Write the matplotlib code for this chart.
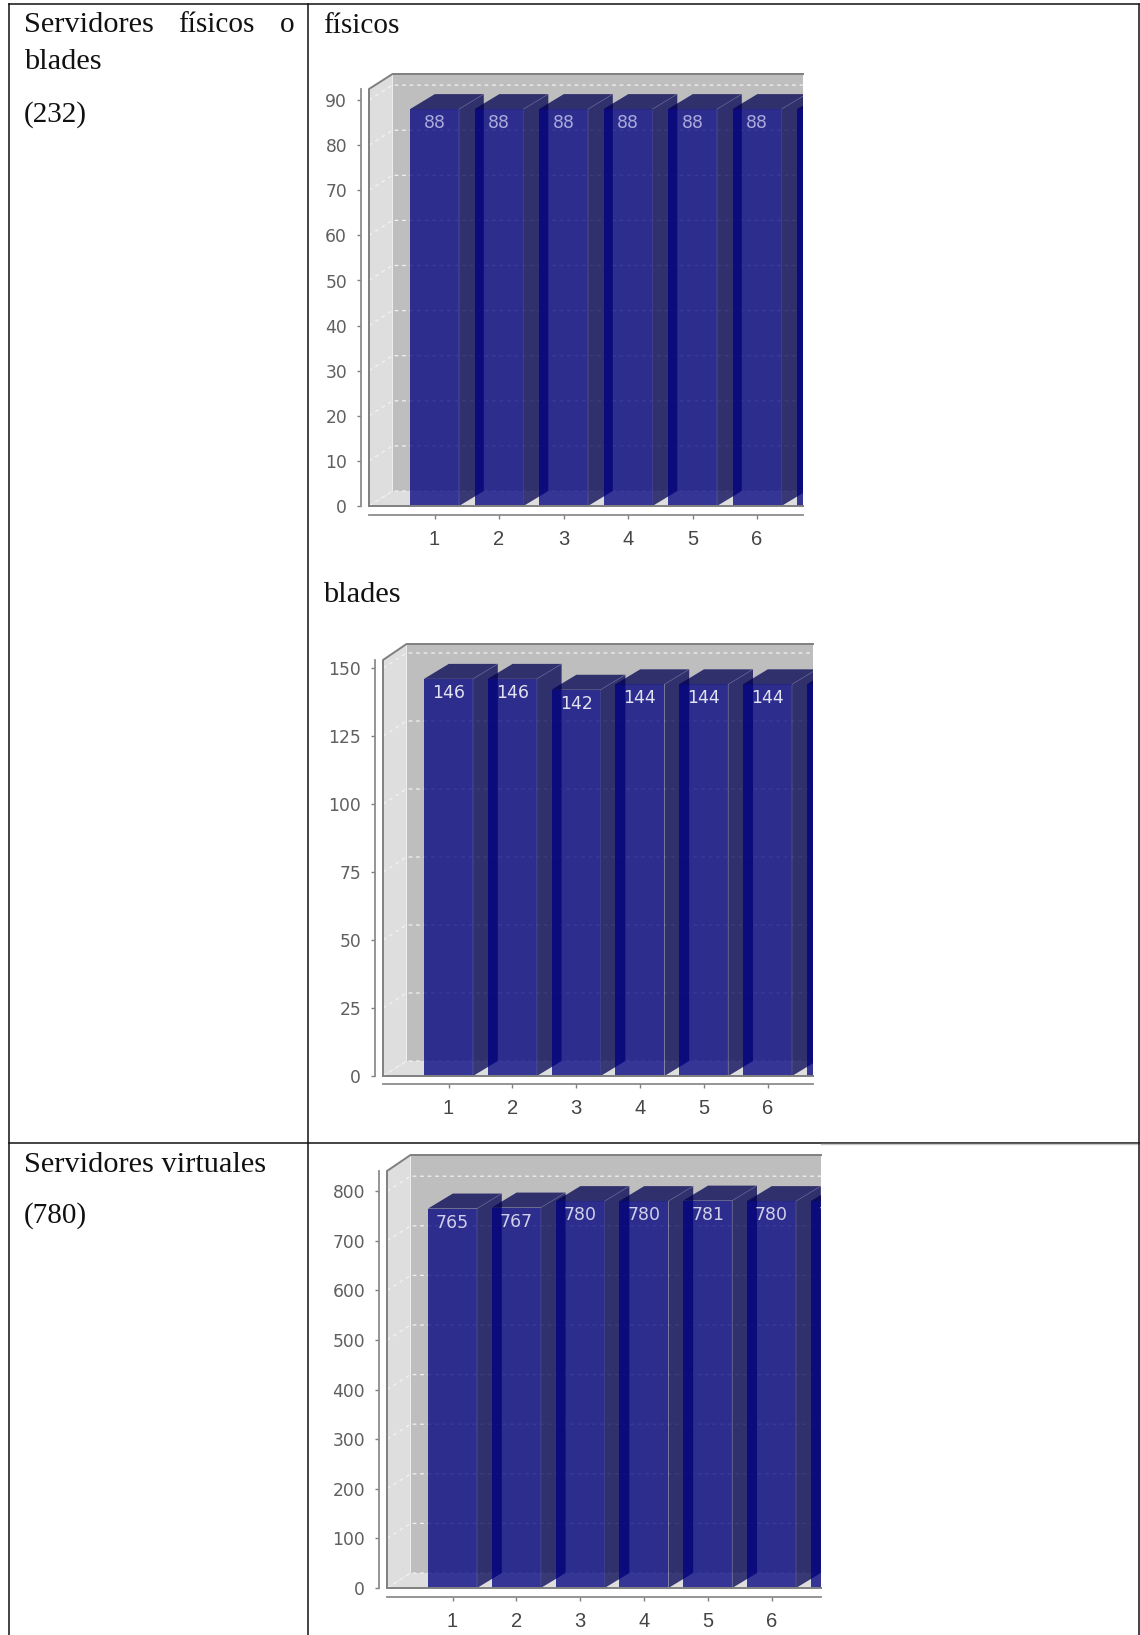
import matplotlib
matplotlib.use("Agg")
import matplotlib.pyplot as plt
from matplotlib.lines import Line2D
from matplotlib.patches import Polygon

# values
CATEGORIES = [1, 2, 3, 4, 5, 6, 7]
FISICOS = [88, 88, 88, 88, 88, 88, 88]
BLADES = [146, 146, 142, 144, 144, 144, 144]
VIRTUALES = [765, 767, 780, 780, 781, 780, 780]
FISICOS_TICKS = [0, 10, 20, 30, 40, 50, 60, 70, 80, 90]
BLADES_TICKS = [0, 25, 50, 75, 100, 125, 150]
VIRTUALES_TICKS = [0, 100, 200, 300, 400, 500, 600, 700, 800]

W, H = 1140, 1635
WALL_DEPTH_X = 23.5
BAR_DEPTH_X = 24.8
DEPTH_Y = 15
BAR_PX = 49

NAVY = (0, 0, 128 / 255, 0.76)
NAVY_DARK = (0, 0, 82 / 255, 0.75)
EDGE = (0.62, 0.62, 0.78, 0.3)
WALL = "#dedede"
BACK = "#bebebe"
OUTLINE = "#808080"
SERIF = "Liberation Serif"

fig = plt.figure(figsize=(W / 100, H / 100), dpi=100)


def fx(x):
    return x / W


def fy(y):
    return 1 - y / H


def table_line(x0, y0, x1, y1, color="#111111", lw=1.1):
    fig.add_artist(Line2D([fx(x0), fx(x1)], [fy(y0), fy(y1)], color=color, lw=lw,
                          transform=fig.transFigure))


def doc_text(x, y, s, size=21):
    fig.text(fx(x), fy(y), s, family=SERIF, fontsize=size, color="#111111", va="baseline")


def bar_chart(values, ticks, wall, clip, zero, top, corner, ppu, centre, spacing,
              label_color, spine_gap, axis_gap):
    ax = fig.add_axes([fx(wall), fy(zero), fx(clip - wall), (zero - top) / H])
    ax.set_xlim(1 + (wall - centre) / spacing, 1 + (clip - centre) / spacing)
    ax.set_ylim(0, (zero - top) / ppu)
    x0, x1 = ax.get_xlim()
    y1 = ax.get_ylim()[1]
    wall_dx = WALL_DEPTH_X / spacing
    dx = BAR_DEPTH_X / spacing
    dy = DEPTH_Y / ppu
    width = BAR_PX / spacing

    # walls and floor of the fake 3d box
    ax.add_patch(Polygon([(x0 + wall_dx, dy), (x1, dy), (x1, y1), (x0 + wall_dx, y1)], fc=BACK, ec="none"))
    ax.add_patch(Polygon([(x0, 0), (x0 + wall_dx, dy), (x0 + wall_dx, y1), (x0, y1 - dy)], fc=WALL, ec="none"))
    ax.add_patch(Polygon([(x0, 0), (x1, 0), (x1, dy), (x0 + wall_dx, dy)], fc=WALL, ec="none"))

    for t in ticks:
        ax.plot([x0, x0 + wall_dx, x1], [t, t + dy, t + dy], color="#f2f2f2", lw=0.9,
                dashes=(3, 3), zorder=1)

    for cat, val in zip(CATEGORIES, values):
        left = cat - width / 2
        right = cat + width / 2
        ax.bar(cat, val, width=width, color=NAVY, edgecolor="none", zorder=2)
        ax.add_patch(Polygon([(right, 0), (right + dx, dy), (right + dx, val + dy), (right, val)],
                             fc=NAVY_DARK, ec="none", zorder=2))
        ax.add_patch(Polygon([(left, val), (right, val), (right + dx, val + dy), (left + dx, val + dy)],
                             fc=NAVY_DARK, ec="none", zorder=2))
        ax.plot([right, right, right + dx], [0, val, val + dy], color=EDGE, lw=0.6, zorder=2)
        ax.text(cat, val - 14 / ppu, str(val), ha="center", va="center", color=label_color,
                fontsize=12.5, clip_on=True, zorder=3)

    ax.plot([x0, x0, x0 + wall_dx, x1], [0, (zero - corner) / ppu, y1, y1], color=OUTLINE, lw=1.4,
            clip_on=False, zorder=4)
    ax.plot([x0, x1], [0, 0], color=OUTLINE, lw=1.4, clip_on=False, zorder=4)

    for side in ("top", "right"):
        ax.spines[side].set_visible(False)
    ax.spines["left"].set_position(("outward", spine_gap * 0.72))
    ax.spines["left"].set_bounds(0, (zero - corner) / ppu)
    ax.spines["bottom"].set_position(("outward", axis_gap * 0.72))
    for side in ("left", "bottom"):
        ax.spines[side].set_color("#8c8c8c")
        ax.spines[side].set_linewidth(1.3)

    ax.set_yticks(ticks)
    ax.set_xticks(CATEGORIES[:6])
    ax.tick_params(axis="y", length=3, width=1, color="#808080", pad=7, labelsize=12.3,
                   labelcolor="#5f5f5f")
    ax.tick_params(axis="x", length=3, width=1, color="#808080", pad=8, labelsize=14.5,
                   labelcolor="#454545")
    for lab in ax.get_xticklabels():
        lab.set_family("Liberation Sans")
    return ax


def main() -> None:
    # table around the charts
    table_line(8.5, 4.5, 1139, 4.5)
    table_line(8.5, 1142.5, 1139, 1142.5)
    table_line(821, 1144, 1139, 1144, color="#c8c8c8", lw=1.0)
    table_line(8.5, 4.5, 8.5, H)
    table_line(307.5, 4.5, 307.5, H)
    table_line(1139, 4.5, 1139, H)

    doc_text(24, 32, "Servidores", 21.9)
    doc_text(178, 32, "físicos")
    doc_text(280, 32, "o")
    doc_text(24, 69, "blades", 21.9)
    doc_text(24, 122, "(232)")
    doc_text(24, 1172, "Servidores virtuales", 21.9)
    doc_text(24, 1223, "(780)")
    doc_text(323, 33, "físicos")
    doc_text(323, 602, "blades", 21.9)

    bar_chart(FISICOS, FISICOS_TICKS, 369, 803, 506, 74, 89, 4.51, 434.5, 64.5,
              "#aaaadc", 8, 9)
    bar_chart(BLADES, BLADES_TICKS, 383, 813, 1076, 644, 660, 2.72, 448.5, 63.8,
              "#e2e2f2", 8, 8)
    bar_chart(VIRTUALES, VIRTUALES_TICKS, 387, 821, 1588, 1155, 1171, 0.496, 452.5, 63.8,
              "#d0d0ea", 8, 9)

    fig.savefig("out.png", dpi=100, facecolor="white")
    plt.close(fig)


if __name__ == "__main__":
    main()
